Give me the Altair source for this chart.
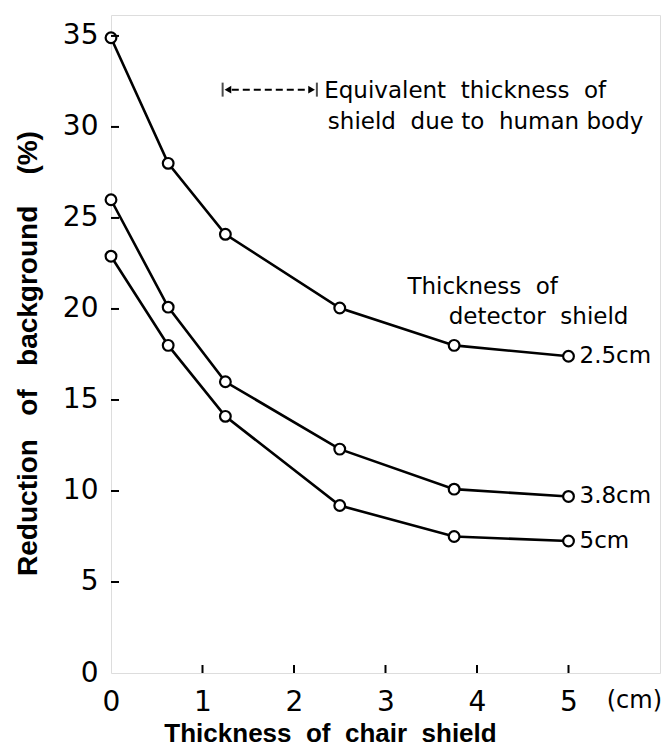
import altair as alt
import pandas as pd

# Data
chair_x = [0, 0.625, 1.25, 2.5, 3.75, 5]
s_25 = [34.9, 28.0, 24.1, 20.05, 18.0, 17.4]
s_38 = [26.0, 20.1, 16.0, 12.3, 10.1, 9.7]
s_50 = [22.9, 18.0, 14.1, 9.2, 7.5, 7.25]
series_names = ["2.5cm", "3.8cm", "5cm"]

x_ticks = [0, 1, 2, 3, 4, 5]
y_ticks = [0, 5, 10, 15, 20, 25, 30, 35]

rows = []
for name, vals in zip(series_names, [s_25, s_38, s_50]):
    for xv, yv in zip(chair_x, vals):
        rows.append({"x": xv, "y": yv, "s": name})
df = pd.DataFrame(rows)

lab_df = pd.DataFrame({"x": [5, 5, 5], "y": [s_25[-1], s_38[-1], s_50[-1]], "t": series_names})

W, H = 549, 658
xs = alt.Scale(domain=[0, 6], nice=False, zero=False)
ys = alt.Scale(domain=[0, 36.15], nice=False, zero=False)
FONT = "DejaVu Sans"
NB = "\u00a0"

X = alt.X("x:Q", scale=xs, axis=alt.Axis(
    values=x_ticks, ticks=False, domain=False, grid=False, labelPadding=15,
    format="d", labelFlush=False, labelBound=False, labelOverlap=False,
    labelFontSize=28, labelFont=FONT, labelColor="black", labelFontWeight="normal",
    title=f"Thickness{NB} of{NB} chair{NB} shield", titleFont="Liberation Sans",
    titleFontSize=26, titleFontWeight="bold", titleColor="black",
    titleX=219, titleY=73, titleAlign="center", titleBaseline="bottom"))
Y = alt.Y("y:Q", scale=ys, axis=alt.Axis(
    values=y_ticks, ticks=False, domain=False, grid=False, labelPadding=13,
    format="d", labelFlush=False, labelBound=False, labelOverlap=False,
    labelFontSize=28, labelFont=FONT, labelColor="black",
    title=f"Reduction{NB}{NB} of{NB}{NB} background{NB}{NB}{NB} (%)", titleFont="Liberation Sans",
    titleFontSize=28, titleFontWeight="bold", titleColor="black",
    titleX=-69, titleY=338, titleAlign="center", titleBaseline="bottom"))

lines = alt.Chart(df).mark_line(color="black", strokeWidth=2.6).encode(
    x=X, y=Y, detail="s:N")
points = alt.Chart(df).mark_point(shape="circle", filled=True, fill="white",
                                  stroke="black", strokeWidth=2.2, size=115, opacity=1).encode(
    x=alt.X("x:Q", scale=xs), y=alt.Y("y:Q", scale=ys))

labels = alt.Chart(lab_df).mark_text(align="left", baseline="middle", dx=11,
                                     font=FONT, fontSize=23, color="black").encode(
    x=alt.X("x:Q", scale=xs), y=alt.Y("y:Q", scale=ys), text="t:N")

# inner ticks
ytick_df = pd.DataFrame({"v": y_ticks[1:]})
ytk = alt.Chart(ytick_df).mark_rule(color="black", strokeWidth=2).encode(
    y=alt.Y("v:Q", scale=ys), x=alt.value(0), x2=alt.value(8))
xtick_df = pd.DataFrame({"v": x_ticks[1:]})
xtk = alt.Chart(xtick_df).mark_rule(color="black", strokeWidth=2).encode(
    x=alt.X("v:Q", scale=xs), y=alt.value(H), y2=alt.value(H - 8))

# (cm) unit label
unit_df = pd.DataFrame({"x": [5.72], "y": [0], "t": ["(cm)"]})
unit = alt.Chart(unit_df).mark_text(align="center", baseline="top", dy=16,
                                    font=FONT, fontSize=24, color="black").encode(
    x=alt.X("x:Q", scale=xs), y=alt.Y("y:Q", scale=ys), text="t:N")

# annotations
ann_df = pd.DataFrame({
    "x": [2.33, 2.37, 3.24, 3.69],
    "y": [31.95, 30.25, 21.2, 19.55],
    "t": [f"Equivalent{NB} thickness{NB} of", f"shield{NB} due{NB}to{NB} human body",
          f"Thickness{NB} of", f"detector{NB} shield"]})
ann = alt.Chart(ann_df).mark_text(align="left", baseline="middle",
                                  font=FONT, fontSize=23, color="black").encode(
    x=alt.X("x:Q", scale=xs), y=alt.Y("y:Q", scale=ys), text="t:N")

arrow_x = [1.22, 2.25]
arrow_y = 32.05
dash_df = pd.DataFrame({"x": [arrow_x[0] + 0.1], "x2": [arrow_x[1] - 0.1], "y": [arrow_y]})
dash = alt.Chart(dash_df).mark_rule(color="black", strokeWidth=2, strokeDash=[7, 4]).encode(
    x=alt.X("x:Q", scale=xs), x2="x2:Q", y=alt.Y("y:Q", scale=ys))
bar_df = pd.DataFrame({"x": arrow_x, "y": [arrow_y, arrow_y]})
bars = alt.Chart(bar_df).mark_tick(color="black", thickness=2, size=14, orient="vertical").encode(
    x=alt.X("x:Q", scale=xs), y=alt.Y("y:Q", scale=ys))
head_df = pd.DataFrame({"x": [arrow_x[0] + 0.07, arrow_x[1] - 0.07], "y": [arrow_y, arrow_y],
                        "a": [-90, 90]})
heads = alt.Chart(head_df).mark_point(shape="triangle", filled=True, color="black",
                                      size=60, opacity=1).encode(
    x=alt.X("x:Q", scale=xs), y=alt.Y("y:Q", scale=ys),
    angle=alt.Angle("a:Q", scale=None))

chart = alt.layer(lines, points, labels, ytk, xtk, unit, ann, dash, bars, heads).properties(
    width=W, height=H,
    autosize=alt.AutoSizeParams(type="none"),
    padding={"left": 111, "top": 15, "right": 3, "bottom": 76},
).configure_view(stroke="black", strokeWidth=2.6).configure(background="white")

chart.save("out.html", embed_options={"renderer": "svg", "actions": False})
